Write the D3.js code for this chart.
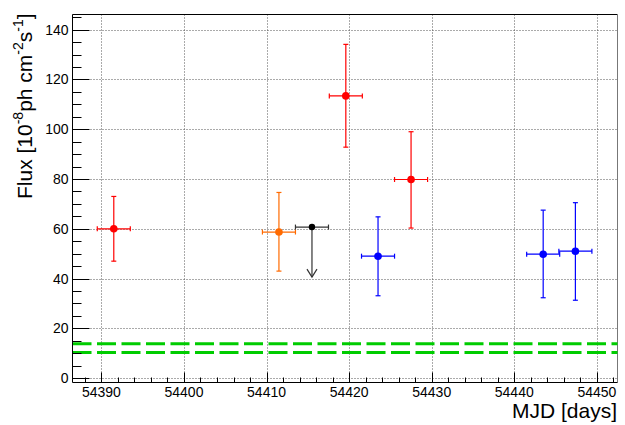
<!DOCTYPE html>
<html><head><meta charset="utf-8">
<script src="https://cdn.jsdelivr.net/npm/d3@7"></script>
<style>body{margin:0;background:#fff}svg{display:block}text{font-family:"Liberation Sans",Arial,Helvetica,sans-serif}</style>
</head><body><svg id="c" width="625" height="425"></svg>
<script>
// ---- data ----
const redMJD = [54391.5, 54419.6, 54427.5];
const redFlux = [60, 113.4, 79.8];
const redErrHi = [13, 20.7, 19.2];
const redErrLo = [13, 20.6, 19.5];
const orangeMJD = [54411.5];
const orangeFlux = [58.7];
const orangeErrHi = [15.9];
const orangeErrLo = [15.7];
const blueMJD = [54423.5, 54443.5, 54447.4];
const blueFlux = [49, 49.8, 51];
const blueErrHi = [15.8, 17.7, 19.5];
const blueErrLo = [15.9, 17.5, 19.7];
const ulMJD = [54415.5];
const ulFlux = [60.7];
const ulArrowTo = [40.6];
const binHalfWidth = [2.0];
const baselineLevels = [13.8, 10.3];
const xTicks = [54390, 54400, 54410, 54420, 54430, 54440, 54450];
const yTicks = [0, 20, 40, 60, 80, 100, 120, 140];

// ---- layout ----
const L = 72.5, R = 617.5, T = 14.5, B = 382.5;
const svg = d3.select("#c");
const x = d3.scaleLinear().domain([54386.5, 54452.5]).range([L, R]);
const y = d3.scaleLinear().domain([-1.75, 146.1]).range([B, T]);

// grid
const g = svg.append("g");
g.selectAll(".gx").data(xTicks).join("line")
  .attr("x1", d => Math.round(x(d)) + 0.5).attr("x2", d => Math.round(x(d)) + 0.5)
  .attr("y1", T).attr("y2", B)
  .attr("stroke", "#555").attr("stroke-width", 1).attr("stroke-dasharray", "1,2");
g.selectAll(".gy").data(yTicks).join("line")
  .attr("y1", d => Math.round(y(d)) + 0.5).attr("y2", d => Math.round(y(d)) + 0.5)
  .attr("x1", L).attr("x2", R)
  .attr("stroke", "#555").attr("stroke-width", 1).attr("stroke-dasharray", "1,2");

// frame top/right
svg.append("line").attr("x1", L).attr("x2", R).attr("y1", T).attr("y2", T).attr("stroke", "#000");
svg.append("line").attr("x1", R).attr("x2", R).attr("y1", T).attr("y2", B).attr("stroke", "#777");

// green baseline dashed lines
svg.selectAll(".base").data(baselineLevels).join("line")
  .attr("x1", L).attr("x2", R).attr("y1", d => y(d)).attr("y2", d => y(d))
  .attr("stroke", "#00cc00").attr("stroke-width", 3).attr("stroke-dasharray", "19,5.5");

// axes
const yMinor = d3.range(0, 146, 5);
const xMinor = d3.range(54388, 54453, 2);
const ax = svg.append("g");
ax.append("line").attr("x1", L).attr("x2", L).attr("y1", T).attr("y2", B).attr("stroke", "#000");
ax.append("line").attr("x1", L).attr("x2", R).attr("y1", B).attr("y2", B).attr("stroke", "#000");
ax.selectAll(".ymt").data(yMinor).join("line")
  .attr("x1", L).attr("x2", d => L + (d % 20 === 0 ? 17 : 9))
  .attr("y1", d => Math.round(y(d)) + 0.5).attr("y2", d => Math.round(y(d)) + 0.5)
  .attr("stroke", "#000");
ax.selectAll(".xmt").data(xMinor).join("line")
  .attr("y1", B).attr("y2", d => B - (d % 10 === 0 ? 10 : 5))
  .attr("x1", d => Math.round(x(d)) + 0.5).attr("x2", d => Math.round(x(d)) + 0.5)
  .attr("stroke", "#000");
ax.selectAll(".yl").data(yTicks).join("text")
  .attr("x", L - 4).attr("y", d => y(d) + 5).attr("text-anchor", "end")
  .attr("font-size", 14).attr("fill", "#000").text(d => d);
ax.selectAll(".xl").data(xTicks).join("text")
  .attr("x", d => x(d)).attr("y", 396.5).attr("text-anchor", "middle")
  .attr("font-size", 14).attr("fill", "#000").text(d => d);

// titles
svg.append("text").attr("x", 617).attr("y", 418).attr("text-anchor", "end")
  .attr("font-size", 21).text("MJD [days]");
const yt = svg.append("text").attr("transform", "translate(32,199) rotate(-90)")
  .attr("font-size", 21);
yt.append("tspan").text("Flux [10");
yt.append("tspan").attr("font-size", 14).attr("dy", -9).text("-8");
yt.append("tspan").attr("dy", 9).text("ph cm");
yt.append("tspan").attr("font-size", 14).attr("dy", -9).text("-2");
yt.append("tspan").attr("dy", 9).text("s");
yt.append("tspan").attr("font-size", 14).attr("dy", -9).text("-1");
yt.append("tspan").attr("dy", 9).text("]");

// error bar series
function series(mjd, flux, hi, lo, color, r) {
  const data = mjd.map((m, i) => ({ m, f: flux[i], hi: hi[i], lo: lo[i] }));
  const s = svg.append("g").attr("stroke", color).attr("stroke-width", 1.2);
  const cap = 2.5;
  data.forEach(d => {
    const cx = x(d.m), cy = y(d.f);
    const x0 = x(d.m - binHalfWidth[0]), x1 = x(d.m + binHalfWidth[0]);
    const yt0 = y(d.f + d.hi), yb0 = y(d.f - d.lo);
    s.append("line").attr("x1", x0).attr("x2", x1).attr("y1", cy).attr("y2", cy);
    s.append("line").attr("x1", x0).attr("x2", x0).attr("y1", cy - cap).attr("y2", cy + cap);
    s.append("line").attr("x1", x1).attr("x2", x1).attr("y1", cy - cap).attr("y2", cy + cap);
    s.append("line").attr("x1", cx).attr("x2", cx).attr("y1", yt0).attr("y2", yb0);
    s.append("line").attr("x1", cx - cap).attr("x2", cx + cap).attr("y1", yt0).attr("y2", yt0);
    s.append("line").attr("x1", cx - cap).attr("x2", cx + cap).attr("y1", yb0).attr("y2", yb0);
  });
  svg.append("g").selectAll("circle").data(data).join("circle")
    .attr("cx", d => x(d.m)).attr("cy", d => y(d.f)).attr("r", r).attr("fill", color);
}
series(redMJD, redFlux, redErrHi, redErrLo, "#ff0000", 3.8);
series(orangeMJD, orangeFlux, orangeErrHi, orangeErrLo, "#ff6a00", 3.8);
series(blueMJD, blueFlux, blueErrHi, blueErrLo, "#0000ff", 3.8);

// upper limit
ulMJD.forEach((m, i) => {
  const cx = x(m), cy = y(ulFlux[i]), ty = y(ulArrowTo[i]);
  const x0 = x(m - binHalfWidth[0]), x1 = x(m + binHalfWidth[0]);
  const u = svg.append("g").attr("stroke", "#333").attr("stroke-width", 1.2).attr("fill", "none");
  u.append("line").attr("x1", x0).attr("x2", x1).attr("y1", cy).attr("y2", cy);
  u.append("line").attr("x1", x0).attr("x2", x0).attr("y1", cy - 2.5).attr("y2", cy + 2.5);
  u.append("line").attr("x1", x1).attr("x2", x1).attr("y1", cy - 2.5).attr("y2", cy + 2.5);
  u.append("line").attr("x1", cx).attr("x2", cx).attr("y1", cy).attr("y2", ty);
  u.append("path").attr("d", `M${cx - 5},${ty - 8}L${cx},${ty}L${cx + 5},${ty - 8}`);
  svg.append("circle").attr("cx", cx).attr("cy", cy).attr("r", 3.2).attr("fill", "#000");
});
</script></body></html>
